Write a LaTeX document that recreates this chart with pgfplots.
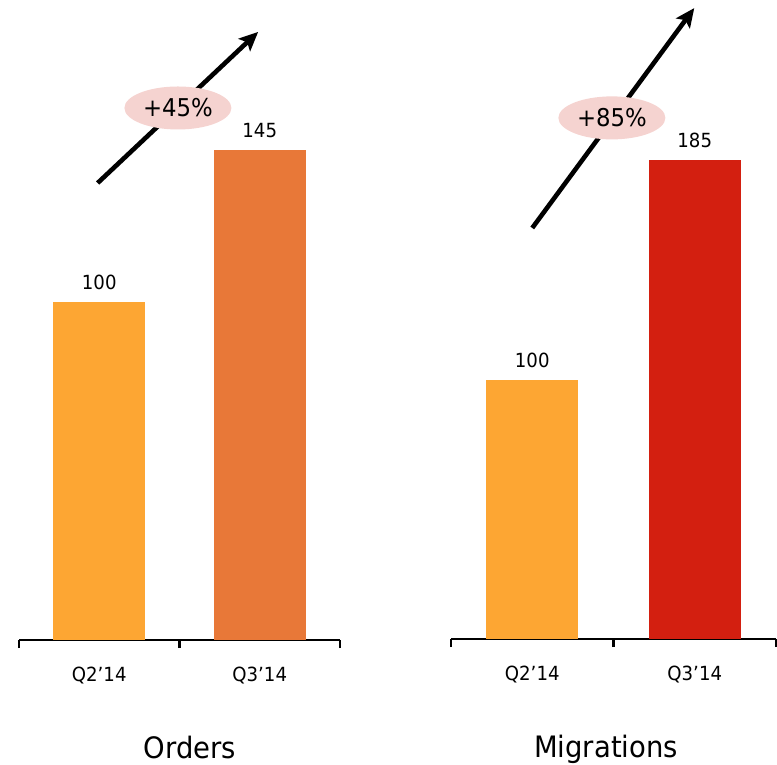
\documentclass[border=0pt]{standalone}
\usepackage{pgfplots}
\pgfplotsset{compat=1.18}
\usepackage{fontspec}
\setmainfont{DejaVu Sans}[FakeStretch=0.93]
\usetikzlibrary{arrows.meta,shapes.geometric}

\definecolor{qtwo}{HTML}{FDA633}
\definecolor{ordersq3}{HTML}{E87838}
\definecolor{migq3}{HTML}{D31F10}
\definecolor{bubble}{HTML}{F5D3D0}

\newcommand{\lblfont}{\fontsize{19.5}{23}\selectfont}
\newcommand{\pctfont}{\fontsize{24.5}{29}\selectfont}
\newcommand{\ttlfont}{\fontsize{29.5}{35}\selectfont}

\tikzset{
  growtharrow/.style={line width=4.6pt,
    -{Stealth[length=19pt,width=17pt,inset=4pt]}},
  growthbubble/.style={ellipse, fill=bubble, minimum width=107pt,
    minimum height=43pt, inner sep=0pt, font=\pctfont},
}

\pgfplotsset{
  growthpanel/.style={
    xmin=-0.5, xmax=1.5, ymin=0,
    clip=false,
    axis x line*=bottom, axis y line=none,
    axis line style={line width=2.2pt, black},
    every outer x axis line/.append style={line width=2.2pt, black},
    ybar, bar shift=0pt, bar width=92pt,
    xtick={0,1}, xticklabels={Q2’14,Q3’14},
    major tick length=0pt, tick align=outside,
    major tick style={line width=2.2pt, black},
    xticklabel style={font=\lblfont, anchor=base, yshift=-41pt},
    extra x ticks={-0.5,0.5,1.5},
    extra x tick labels={,,},
    extra x tick style={major tick length=8pt,
      major tick style={line width=2.2pt, black}},
    nodes near coords={\pgfmathprintnumber[assume math mode=true]{\pgfplotspointmeta}},
    every node near coord/.style={font=\lblfont, anchor=south,
      inner sep=0pt, yshift=12pt, black},
    xlabel style={font=\ttlfont, anchor=base},
  },
}

\begin{document}
\begin{tikzpicture}
\path[use as bounding box] (0,0) rectangle (777pt,764pt);

% Orders
\begin{axis}[growthpanel,
  x=160.5pt, y=3.38pt, ymax=190,
  at={(19pt,124pt)}, anchor=south west,
  xlabel={Orders},
  xlabel style={at={(axis description cs:0.533,0)}, yshift=-118pt},
]
\addplot[fill=qtwo, draw=none] coordinates {(0,100)};
\addplot[fill=ordersq3, draw=none] coordinates {(1,145)};
\draw[growtharrow] (axis cs:-0.01,135.2) -- (axis cs:0.99,179.9);
\node[growthbubble] at (axis cs:0.49,157.4) {+45\%};
\end{axis}

% Migrations
\begin{axis}[growthpanel,
  x=162.5pt, y=2.59pt, ymax=250,
  at={(451pt,125pt)}, anchor=south west,
  xlabel={Migrations},
  xlabel style={at={(axis description cs:0.477,0)}, yshift=-118pt},
]
\addplot[fill=qtwo, draw=none] coordinates {(0,100)};
\addplot[fill=migq3, draw=none] coordinates {(1,185)};
\draw[growtharrow] (axis cs:0,158.7) -- (axis cs:0.997,243.6);
\node[growthbubble] at (axis cs:0.49,201.2) {+85\%};
\end{axis}
\end{tikzpicture}
\end{document}
